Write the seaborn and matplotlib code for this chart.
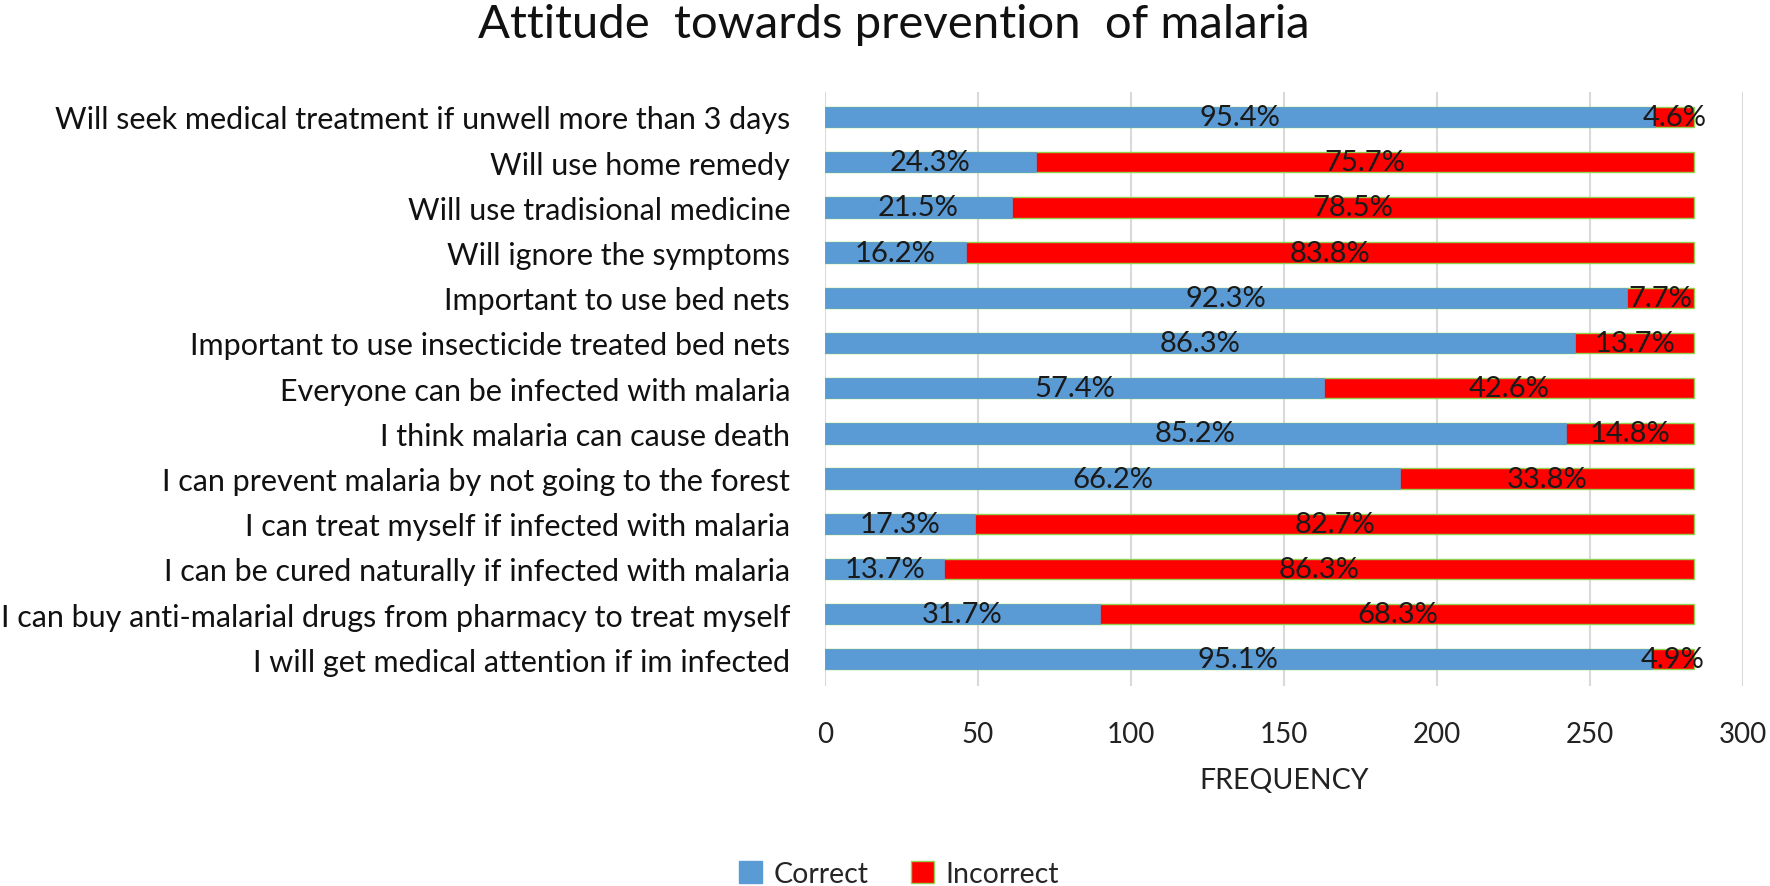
import numpy as np
import pandas as pd
import seaborn as sns
import matplotlib.pyplot as plt
from matplotlib.patches import Patch

# statements, top to bottom
statements = [
    "Will seek medical treatment if unwell more than 3 days",
    "Will use home remedy",
    "Will use tradisional medicine",
    "Will ignore the symptoms",
    "Important to use bed nets",
    "Important to use insecticide treated bed nets",
    "Everyone can be infected with malaria",
    "I think malaria can cause death",
    "I can prevent malaria by not going to the forest",
    "I can treat myself if infected with malaria",
    "I can be cured naturally if infected with malaria",
    "I can buy anti-malarial drugs from pharmacy to treat myself",
    "I will get medical attention if im infected",
]
correct = [271, 69, 61, 46, 262, 245, 163, 242, 188, 49, 39, 90, 270]
incorrect = [13, 215, 223, 238, 22, 39, 121, 42, 96, 235, 245, 194, 14]
correct_pct = ["95.4%", "24.3%", "21.5%", "16.2%", "92.3%", "86.3%", "57.4%",
               "85.2%", "66.2%", "17.3%", "13.7%", "31.7%", "95.1%"]
incorrect_pct = ["4.6%", "75.7%", "78.5%", "83.8%", "7.7%", "13.7%", "42.6%",
                 "14.8%", "33.8%", "82.7%", "86.3%", "68.3%", "4.9%"]

df = pd.DataFrame({"statement": statements, "Correct": correct, "Incorrect": incorrect})
df["total"] = df["Correct"] + df["Incorrect"]

BLUE = "#5b9bd5"
RED = "#ff0000"
EDGE = "#92d050"

sns.set_style("white")
plt.rcParams["font.family"] = ["Lato", "DejaVu Sans"]

fig = plt.figure(figsize=(17.7, 8.87), dpi=100)
ax = fig.add_axes([0.466, 0.225, 0.519, 0.67])

# red = full bar (total), blue drawn over it
sns.barplot(data=df, x="total", y="statement", color=RED, orient="h",
            width=0.45, edgecolor=EDGE, linewidth=1, saturation=1, ax=ax)
sns.barplot(data=df, x="Correct", y="statement", color=BLUE, orient="h",
            width=0.45, edgecolor=BLUE, linewidth=0.5, saturation=1, ax=ax)

# percentage labels
blue_bars = ax.containers[1]
ax.bar_label(blue_bars, labels=correct_pct, label_type="center",
             fontsize=21, color="#1a1a1a")
for i, (c, n) in enumerate(zip(df["Correct"], df["Incorrect"])):
    ax.text(c + n / 2, i, incorrect_pct[i], ha="center", va="center",
            fontsize=21, color="#1a1a1a")

ax.set_xlim(0, 300)
ax.set_xticks(np.arange(0, 301, 50))
ax.set_ylim(12.6, -0.55)
ax.xaxis.grid(True, color="#d9d9d9", linewidth=1.5)
ax.set_axisbelow(True)
for s in ax.spines.values():
    s.set_visible(False)
ax.tick_params(axis="x", labelsize=20, colors="#222222", pad=25, length=0)
ax.tick_params(axis="y", labelsize=22, colors="#111111", pad=25, length=0)
ax.set_ylabel("")
ax.set_xlabel("FREQUENCY", fontsize=20.5, color="#222222", labelpad=14)

fig.suptitle("Attitude  towards prevention  of malaria", fontsize=34,
             x=0.505, y=0.995, va="top", color="#111111")

handles = [Patch(facecolor=BLUE, edgecolor=BLUE, label="Correct"),
           Patch(facecolor=RED, edgecolor=EDGE, label="Incorrect")]
fig.legend(handles=handles, loc="lower center", bbox_to_anchor=(0.508, -0.03),
           ncol=2, frameon=False, fontsize=20.5, handlelength=0.8,
           handleheight=0.8, columnspacing=1.5, handletextpad=0.4)

fig.savefig("out.png", dpi=100)
